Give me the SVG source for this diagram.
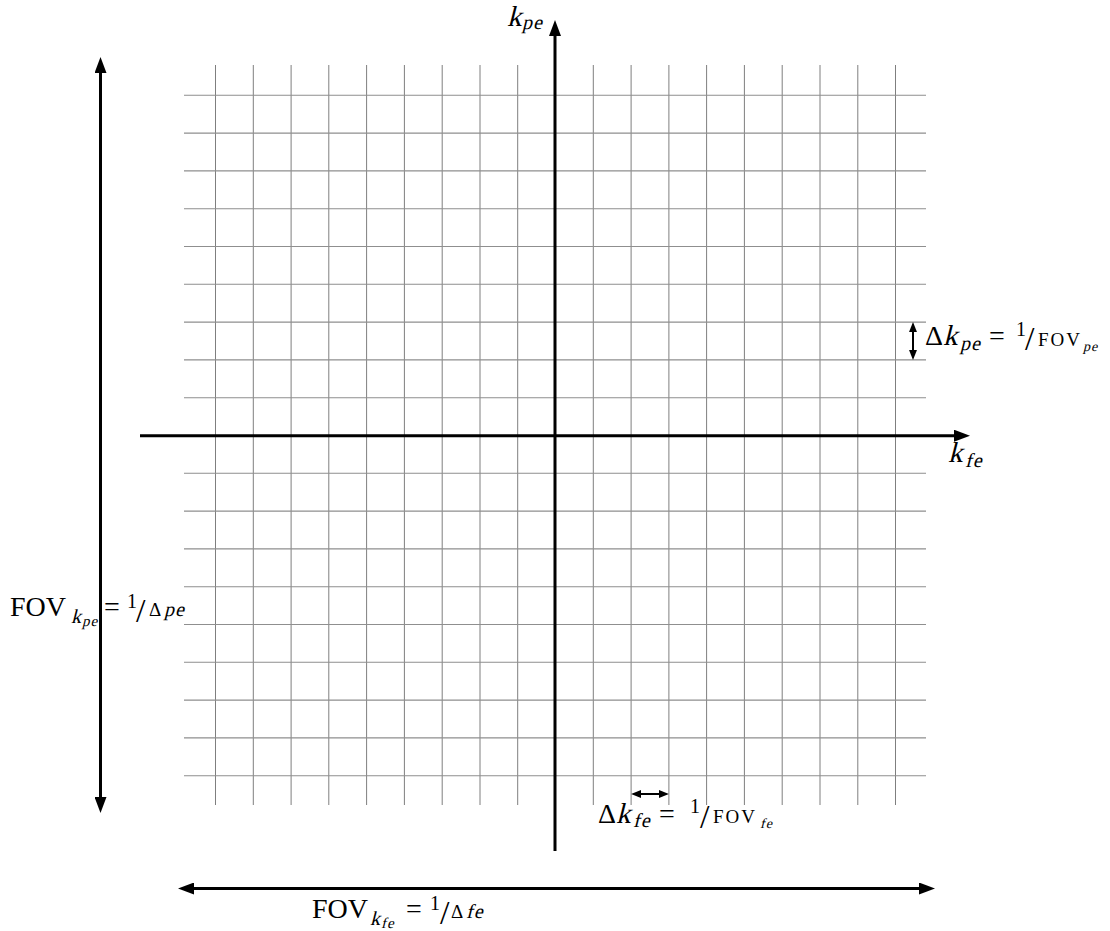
<svg xmlns="http://www.w3.org/2000/svg" width="1110" height="931" viewBox="0 0 1110 931">
<style>
.gv{stroke:#7f7f7f;stroke-width:1;fill:none}
.gh{stroke:#8f8f8f;stroke-width:1.1;fill:none}
.ax{stroke:#000;stroke-width:3;fill:none}
.sm{stroke:#000;stroke-width:2;fill:none}
text{font-family:"Liberation Serif","Times New Roman",serif;font-size:28px;fill:#000}
.m{font-size:29px}
.sub{font-size:20px;letter-spacing:1px}
.ss{font-size:15px;letter-spacing:1px}
.num{font-size:20px}
.sl{font-size:34px}
.den{font-size:19px;letter-spacing:2px}
.ds{font-size:14px;letter-spacing:1px}
.dd{font-size:19px}
</style>
<defs>
<marker id="big" viewBox="0 0 16 12" refX="6" refY="6" markerWidth="16" markerHeight="12" markerUnits="userSpaceOnUse" orient="auto-start-reverse">
<path d="M0,0 L16,6 L0,12 Z" fill="#000"/>
</marker>
<marker id="small" viewBox="0 0 10 8" refX="4" refY="4" markerWidth="10" markerHeight="8" markerUnits="userSpaceOnUse" orient="auto-start-reverse">
<path d="M0,0 L10,4 L0,8 Z" fill="#000"/>
</marker>
</defs>
<rect width="1110" height="931" fill="#fff"/>
<g id="grid">
<path class="gv" d="M215.5,65V805M253.3,65V805M291.1,65V805M328.8,65V805M366.6,65V805M404.4,65V805M442.2,65V805M480,65V805M517.7,65V805M593.3,65V805M631.1,65V805M668.9,65V805M706.6,65V805M744.4,65V805M782.2,65V805M820,65V805M857.8,65V805M895.5,65V805"/>
<path class="gh" d="M184,95.3H926M184,133.1H926M184,170.9H926M184,208.7H926M184,246.5H926M184,284.3H926M184,322.1H926M184,359.9H926M184,397.7H926M184,473.3H926M184,511.1H926M184,548.9H926M184,586.7H926M184,624.5H926M184,662.3H926M184,700.1H926M184,737.9H926M184,775.7H926"/>
</g>
<g id="connectors">
<line id="axis-fe" class="ax" x1="140" y1="435.7" x2="960" y2="435.7" marker-end="url(#big)"/>
<line id="axis-pe" class="ax" x1="555" y1="851" x2="555" y2="30" marker-end="url(#big)"/>
<line id="fov-pe" class="ax" x1="100.5" y1="67" x2="100.5" y2="803" marker-start="url(#big)" marker-end="url(#big)"/>
<line id="fov-fe" class="ax" x1="188" y1="888.5" x2="925" y2="888.5" marker-start="url(#big)" marker-end="url(#big)"/>
<line id="dk-pe" class="sm" x1="913" y1="328.1" x2="913" y2="353.9" marker-start="url(#small)" marker-end="url(#small)"/>
<line id="dk-fe" class="sm" x1="637.1" y1="794" x2="662.9" y2="794" marker-start="url(#small)" marker-end="url(#small)"/>
</g>
<g id="label-kpe">
<text class="m" transform="translate(507,26) skewX(-14)">k</text>
<text class="sub" transform="translate(522,29) skewX(-14)">pe</text>
</g>
<g id="label-kfe">
<text class="m" transform="translate(948,462) skewX(-14)">k</text>
<text class="sub" transform="translate(965,467) skewX(-14)" letter-spacing="3">fe</text>
</g>
<g id="label-dkpe">
<text x="925" y="345">Δ</text>
<text class="m" transform="translate(943,345) skewX(-14)">k</text>
<text class="sub" transform="translate(960,350) skewX(-14)">pe</text>
<text x="989" y="345">=</text>
<text class="num" x="1016" y="336">1</text>
<text class="sl" x="1025" y="350">/</text>
<text class="den" x="1038" y="346">FOV</text>
<text class="ds" transform="translate(1083,351) skewX(-14)">pe</text>
</g>
<g id="label-fovpe">
<text x="10" y="616" font-size="30">FOV</text>
<text class="sub" transform="translate(71,623) skewX(-14)">k</text>
<text class="ss" transform="translate(82,626) skewX(-14)">pe</text>
<text x="104" y="616">=</text>
<text class="num" x="127" y="608">1</text>
<text class="sl" x="136" y="622">/</text>
<text class="dd" x="149" y="616">Δ</text>
<text class="sub" transform="translate(164,616) skewX(-14)">pe</text>
</g>
<g id="label-dkfe">
<text x="598" y="823">Δ</text>
<text class="m" transform="translate(616,823) skewX(-14)">k</text>
<text class="sub" transform="translate(633,827) skewX(-14)" letter-spacing="3">fe</text>
<text x="659" y="823">=</text>
<text class="num" x="690" y="813">1</text>
<text class="sl" x="700" y="828">/</text>
<text class="den" x="713" y="823">FOV</text>
<text class="ds" transform="translate(760,828) skewX(-14)" letter-spacing="2">fe</text>
</g>
<g id="label-fovfe">
<text x="312" y="918" font-size="30">FOV</text>
<text class="sub" transform="translate(370,925) skewX(-14)">k</text>
<text class="ss" transform="translate(381,928) skewX(-14)" letter-spacing="2">fe</text>
<text x="406" y="918">=</text>
<text class="num" x="430" y="910">1</text>
<text class="sl" x="440" y="924">/</text>
<text class="dd" x="451" y="918">Δ</text>
<text class="sub" transform="translate(466,918) skewX(-14)" letter-spacing="3">fe</text>
</g>
</svg>
